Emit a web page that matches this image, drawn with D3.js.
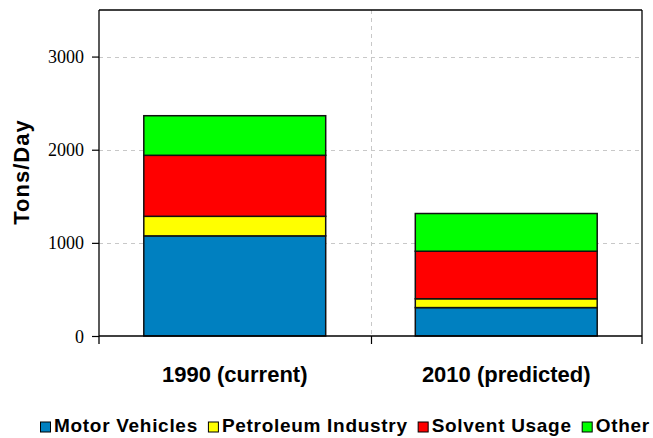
<!DOCTYPE html>
<html>
<head>
<meta charset="utf-8">
<script src="https://cdn.jsdelivr.net/npm/d3@7"></script>
<style>
  html, body { margin: 0; padding: 0; background: #fff; }
  svg { display: block; }
</style>
</head>
<body>
<svg id="chart" width="653" height="438"></svg>
<script>
const categories = ["1990 (current)", "2010 (predicted)"];
const seriesNames = ["Motor Vehicles", "Petroleum Industry", "Solvent Usage", "Other"];
const motorVehicles = [1075, 305];
const petroleumIndustry = [210, 95];
const solventUsage = [655, 510];
const other = [425, 405];
const yTicks = [0, 1000, 2000, 3000];
const colors = ["#0080C0", "#FFFF00", "#FF0000", "#00FF00"];

const seriesValues = [motorVehicles, petroleumIndustry, solventUsage, other];
const rows = categories.map((c, i) => {
  const r = { category: c };
  seriesNames.forEach((s, j) => r[s] = seriesValues[j][i]);
  return r;
});

const svg = d3.select("#chart");
const pLeft = 99, pRight = 642, pTop = 10, pBottom = 336;

const x = d3.scaleBand().domain(categories).range([pLeft, pRight]).paddingInner(0.33).paddingOuter(0.165);
const y = d3.scaleLinear().domain([0, 3500]).range([pBottom, pTop]);

// gridlines
const grid = svg.append("g").attr("stroke", "#c8c8c8").attr("stroke-width", 1).attr("stroke-dasharray", "4,4");
yTicks.filter(t => t > 0).forEach(t => {
  grid.append("line").attr("x1", pLeft).attr("x2", pRight).attr("y1", Math.round(y(t)) + 0.5).attr("y2", Math.round(y(t)) + 0.5);
});
const xb = d3.scaleBand().domain(categories).range([pLeft, pRight]);
const midX = Math.round(xb(categories[1])) + 0.5;
grid.append("line").attr("x1", midX).attr("x2", midX).attr("y1", pTop).attr("y2", pBottom);

// stacked bars
const stack = d3.stack().keys(seriesNames)(rows);
svg.append("g").selectAll("g").data(stack).join("g")
  .attr("fill", (d, i) => colors[i])
  .selectAll("rect").data(d => d).join("rect")
  .attr("x", d => x(d.data.category))
  .attr("width", x.bandwidth())
  .attr("y", d => y(d[1]))
  .attr("height", d => y(d[0]) - y(d[1]))
  .attr("stroke", "#111")
  .attr("stroke-width", 1.5);

// frame
const frame = svg.append("g").attr("stroke", "#000").attr("stroke-width", 1.3).attr("fill", "none");
frame.append("line").attr("x1", pLeft).attr("x2", pRight).attr("y1", pTop).attr("y2", pTop);
frame.append("line").attr("x1", pRight).attr("x2", pRight).attr("y1", pTop).attr("y2", pBottom + 8);

// y axis
const yAxis = svg.append("g").attr("transform", `translate(${pLeft},0)`)
  .call(d3.axisLeft(y).tickValues(yTicks).tickSize(7).tickPadding(8).tickFormat(d3.format("d")));
yAxis.attr("font-family", "'Liberation Serif', 'Times New Roman', 'DejaVu Serif', serif").attr("font-size", 18);
yAxis.select(".domain").attr("d", `M0,${pTop}V${pBottom + 8}`).attr("stroke-width", 1.3);
yAxis.selectAll(".tick line").attr("stroke-width", 1.2);
yAxis.selectAll("text")
  .style("font-family", "'Liberation Serif', 'Times New Roman', 'DejaVu Serif', serif")
  .style("font-size", "18px")
  .attr("fill", "#000").attr("dy", "0.34em");

// x axis
const xAxis = svg.append("g").attr("transform", `translate(0,${pBottom})`);
xAxis.append("line").attr("x1", pLeft).attr("x2", pRight).attr("y1", 0).attr("y2", 0).attr("stroke", "#000").attr("stroke-width", 1.3);
xAxis.append("line").attr("x1", midX).attr("x2", midX).attr("y1", 0).attr("y2", 8).attr("stroke", "#000").attr("stroke-width", 1.2);
xAxis.selectAll("text.cat").data(categories).join("text")
  .attr("class", "cat")
  .attr("x", d => x(d) + x.bandwidth() / 2)
  .attr("y", 46)
  .attr("text-anchor", "middle")
  .attr("font-family", "'Liberation Sans', Arial, sans-serif")
  .attr("font-weight", "bold")
  .attr("font-size", 22)
  .text(d => d);

// y title
svg.append("text")
  .attr("transform", "translate(29,172) rotate(-90)")
  .attr("text-anchor", "middle")
  .attr("font-family", "'Liberation Sans', Arial, sans-serif")
  .attr("font-weight", "bold")
  .attr("font-size", 22)
  .attr("letter-spacing", 1)
  .text("Tons/Day");

// legend
const legend = svg.append("g").attr("transform", "translate(40,432)");
let cx = 0;
seriesNames.forEach((s, i) => {
  const g = legend.append("g").attr("transform", `translate(${cx},0)`);
  g.append("rect").attr("x", 0.5).attr("y", -10).attr("width", 10).attr("height", 10)
    .attr("fill", colors[i]).attr("stroke", "#000").attr("stroke-width", 1);
  const t = g.append("text").attr("x", 14).attr("y", 0)
    .attr("font-family", "'Liberation Sans', Arial, sans-serif")
    .attr("font-weight", "bold")
    .attr("font-size", 19)
    .attr("letter-spacing", 0.7)
    .text(s);
  cx += 14 + t.node().getComputedTextLength() + 10;
});
</script>
</body>
</html>
